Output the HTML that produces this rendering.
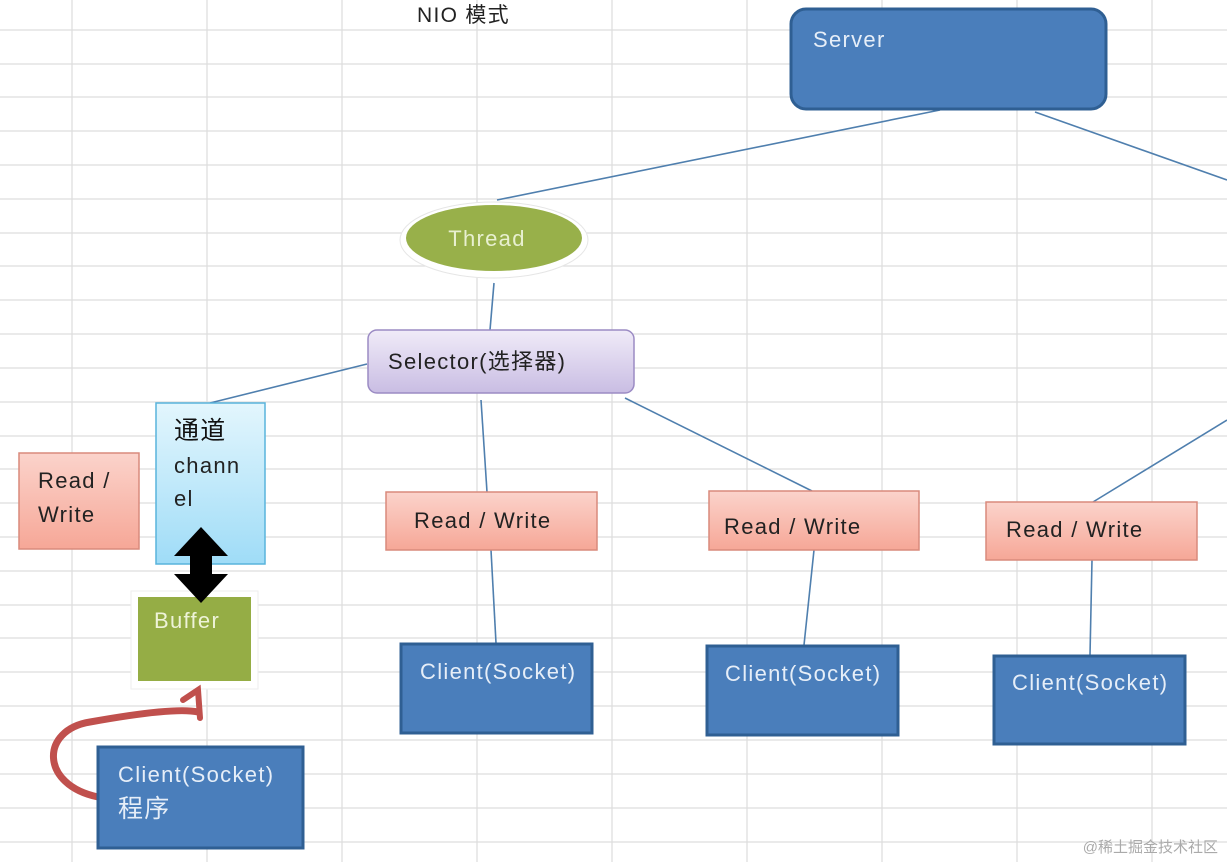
<!DOCTYPE html>
<html><head><meta charset="utf-8"><style>
html,body{margin:0;padding:0;background:#fff;}
svg{display:block;font-family:"Liberation Sans","Noto Sans CJK SC",sans-serif;}
svg text{letter-spacing:1.3px;}
</style></head><body>
<svg width="1227" height="862" viewBox="0 0 1227 862" xmlns="http://www.w3.org/2000/svg">
<defs>
<linearGradient id="pink" x1="0" y1="0" x2="0" y2="1"><stop offset="0" stop-color="#fbd3cb"/><stop offset="1" stop-color="#f6a797"/></linearGradient>
<linearGradient id="cyan" x1="0" y1="0" x2="0" y2="1"><stop offset="0" stop-color="#e3f6fd"/><stop offset="1" stop-color="#9fdcf7"/></linearGradient>
<linearGradient id="purp" x1="0" y1="0" x2="0" y2="1"><stop offset="0" stop-color="#f0ebf8"/><stop offset="1" stop-color="#c9bde3"/></linearGradient>
</defs>
<g stroke="#dedede" stroke-width="1.3">
<line x1="72" y1="0" x2="72" y2="862"/><line x1="207" y1="0" x2="207" y2="862"/><line x1="342" y1="0" x2="342" y2="862"/><line x1="477" y1="0" x2="477" y2="862"/><line x1="612" y1="0" x2="612" y2="862"/><line x1="747" y1="0" x2="747" y2="862"/><line x1="882" y1="0" x2="882" y2="862"/><line x1="1017" y1="0" x2="1017" y2="862"/><line x1="1152" y1="0" x2="1152" y2="862"/>
<line x1="0" y1="30" x2="1227" y2="30"/><line x1="0" y1="64" x2="1227" y2="64"/><line x1="0" y1="97" x2="1227" y2="97"/><line x1="0" y1="131" x2="1227" y2="131"/><line x1="0" y1="165" x2="1227" y2="165"/><line x1="0" y1="199" x2="1227" y2="199"/><line x1="0" y1="233" x2="1227" y2="233"/><line x1="0" y1="266" x2="1227" y2="266"/><line x1="0" y1="300" x2="1227" y2="300"/><line x1="0" y1="334" x2="1227" y2="334"/><line x1="0" y1="368" x2="1227" y2="368"/><line x1="0" y1="402" x2="1227" y2="402"/><line x1="0" y1="436" x2="1227" y2="436"/><line x1="0" y1="469" x2="1227" y2="469"/><line x1="0" y1="503" x2="1227" y2="503"/><line x1="0" y1="537" x2="1227" y2="537"/><line x1="0" y1="571" x2="1227" y2="571"/><line x1="0" y1="605" x2="1227" y2="605"/><line x1="0" y1="638" x2="1227" y2="638"/><line x1="0" y1="672" x2="1227" y2="672"/><line x1="0" y1="706" x2="1227" y2="706"/><line x1="0" y1="740" x2="1227" y2="740"/><line x1="0" y1="774" x2="1227" y2="774"/><line x1="0" y1="808" x2="1227" y2="808"/><line x1="0" y1="842" x2="1227" y2="842"/>
</g>
<text x="417" y="22" font-size="21" fill="#222">NIO 模式</text>
<g stroke="#4f7fae" stroke-width="1.6" fill="none">
<line x1="940" y1="110" x2="497" y2="200"/>
<line x1="1035" y1="112" x2="1227" y2="180"/>
<line x1="494" y1="283" x2="490" y2="330"/>
<line x1="367" y1="364" x2="210" y2="403"/>
<line x1="481" y1="400" x2="487" y2="492"/>
<line x1="625" y1="398" x2="812" y2="491"/>
<line x1="1227" y1="420" x2="1093" y2="502"/>
<line x1="491" y1="550" x2="496" y2="643"/>
<line x1="814" y1="550" x2="804" y2="645"/>
<line x1="1092" y1="560" x2="1090" y2="655"/>
</g>
<rect x="791" y="9" width="315" height="100" rx="15" fill="#4a7ebb" stroke="#2f5f93" stroke-width="3"/>
<text x="813" y="47" font-size="22" fill="#e6eef8">Server</text>
<ellipse cx="494" cy="240" rx="94" ry="38" fill="#fff" stroke="#e6e6e6" stroke-width="1"/>
<ellipse cx="494" cy="238" rx="88" ry="33" fill="#98b04a"/>
<text x="487" y="246" font-size="22" fill="#e8f0d0" text-anchor="middle">Thread</text>
<rect x="368" y="330" width="266" height="63" rx="9" fill="url(#purp)" stroke="#9b8bc4" stroke-width="1.5"/>
<text x="388" y="369" font-size="22" fill="#222">Selector(选择器)</text>
<rect x="19" y="453" width="120" height="96" fill="url(#pink)" stroke="#d98a7c" stroke-width="1.5"/>
<text x="38" y="488" font-size="22" fill="#222">Read /</text>
<text x="38" y="522" font-size="22" fill="#222">Write</text>
<rect x="156" y="403" width="109" height="161" fill="url(#cyan)" stroke="#59b4dc" stroke-width="1.5"/>
<text x="174" y="439" font-size="25" fill="#111">通道</text>
<text x="174" y="473" font-size="22" fill="#222">chann</text>
<text x="174" y="506" font-size="22" fill="#222">el</text>
<rect x="131" y="591" width="127" height="98" fill="#fff" stroke="#eee"/>
<rect x="138" y="597" width="113" height="84" fill="#95ad45"/>
<text x="154" y="628" font-size="22" fill="#eef3d8">Buffer</text>
<polygon points="201,527 228,556 212,556 212,574 228,574 201,603 174,574 190,574 190,556 174,556" fill="#000"/>
<path d="M98,797 C40,785 40,730 90,722 C140,713 180,708 198,712" stroke="#c0504d" stroke-width="7" fill="none" stroke-linecap="round"/>
<path d="M183,700 L198,690 L200,718" stroke="#c0504d" stroke-width="6" fill="none" stroke-linecap="round"/>
<rect x="98" y="747" width="205" height="101" fill="#4a7ebb" stroke="#2f5f93" stroke-width="3"/>
<text x="118" y="782" font-size="22" fill="#e6eef8">Client(Socket)</text>
<text x="118" y="817" font-size="25" fill="#e6eef8">程序</text>
<rect x="386" y="492" width="211" height="58" fill="url(#pink)" stroke="#d98a7c" stroke-width="1.5"/>
<text x="414" y="528" font-size="22" fill="#222">Read / Write</text>
<rect x="709" y="491" width="210" height="59" fill="url(#pink)" stroke="#d98a7c" stroke-width="1.5"/>
<text x="724" y="534" font-size="22" fill="#222">Read / Write</text>
<rect x="986" y="502" width="211" height="58" fill="url(#pink)" stroke="#d98a7c" stroke-width="1.5"/>
<text x="1006" y="537" font-size="22" fill="#222">Read / Write</text>
<rect x="401" y="644" width="191" height="89" fill="#4a7ebb" stroke="#2f5f93" stroke-width="3"/>
<text x="420" y="679" font-size="22" fill="#e6eef8">Client(Socket)</text>
<rect x="707" y="646" width="191" height="89" fill="#4a7ebb" stroke="#2f5f93" stroke-width="3"/>
<text x="725" y="681" font-size="22" fill="#e6eef8">Client(Socket)</text>
<rect x="994" y="656" width="191" height="88" fill="#4a7ebb" stroke="#2f5f93" stroke-width="3"/>
<text x="1012" y="690" font-size="22" fill="#e6eef8">Client(Socket)</text>
<text x="1218" y="852" font-size="15" fill="#aaa" text-anchor="end" style="letter-spacing:0">@稀土掘金技术社区</text>
</svg>
</body></html>
